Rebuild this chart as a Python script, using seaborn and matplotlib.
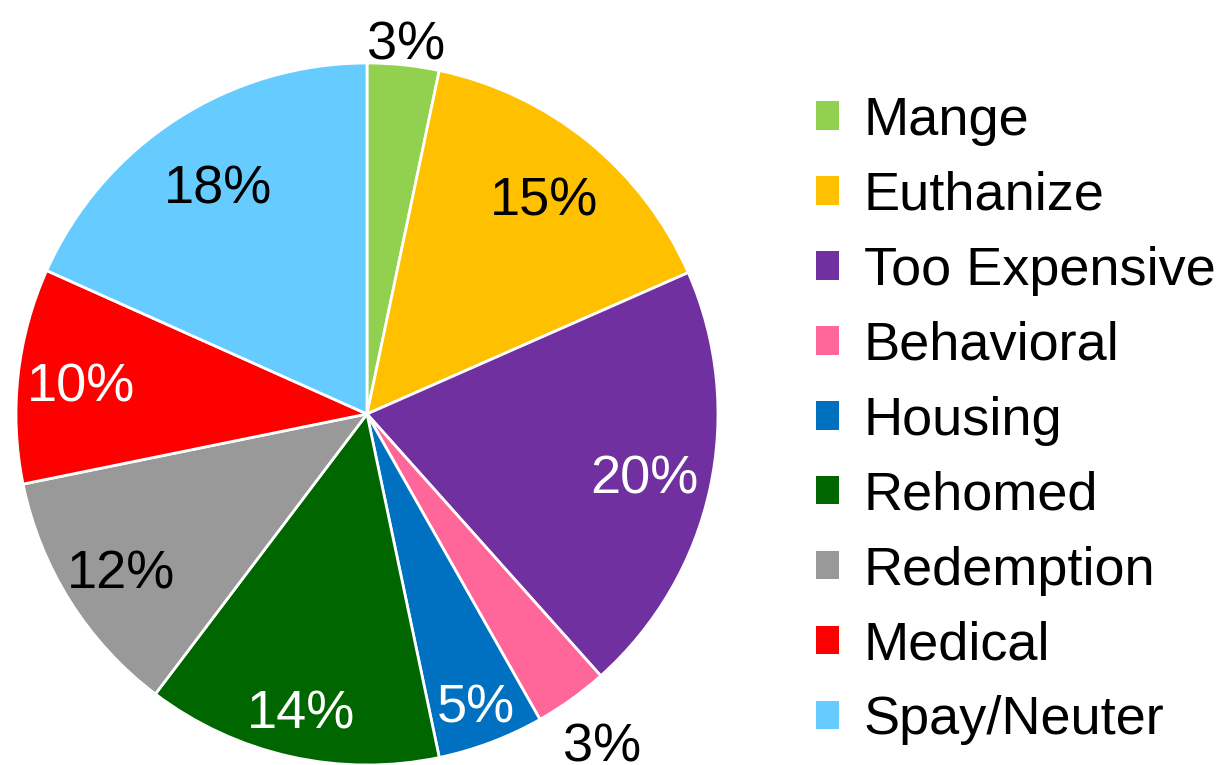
import numpy as np
import matplotlib
matplotlib.use("Agg")
import matplotlib.pyplot as plt
import seaborn as sns
from matplotlib.patches import Patch

categories = ["Mange", "Euthanize", "Too Expensive", "Behavioral", "Housing",
              "Rehomed", "Redemption", "Medical", "Spay/Neuter"]
values = [3.3, 15.1, 20.0, 3.4, 4.9, 13.6, 11.5, 9.9, 18.3]
colors = ["#92D050", "#FFC000", "#7030A0", "#FF6699", "#0070C0",
          "#006600", "#999999", "#FF0000", "#66CCFF"]
label_colors = ["black", "black", "white", "black", "white",
                "white", "black", "white", "black"]
label_radius = [1.07, 0.80, 0.81, 1.15, 0.88, 0.86, 0.83, 0.82, 0.78]

sns.set_theme(style="white")
plt.rcParams["font.family"] = ["Liberation Sans", "DejaVu Sans"]
plt.rcParams["text.color"] = "black"

W, H = 1224, 765
fig = plt.figure(figsize=(W / 100, H / 100), dpi=100)
cx, cy, R = 367, 414, 351
ax = fig.add_axes([(cx - R) / W, (H - cy - R) / H, 2 * R / W, 2 * R / H])

wedges, _ = ax.pie(values, colors=colors, startangle=90, counterclock=False,
                   wedgeprops=dict(edgecolor="white", linewidth=2))
ax.set_xlim(-1, 1)
ax.set_ylim(-1, 1)
ax.set_aspect("equal")

total = sum(values)
for w, v, lc, lr in zip(wedges, values, label_colors, label_radius):
    ang = np.deg2rad((w.theta1 + w.theta2) / 2)
    ax.text(lr * np.cos(ang), lr * np.sin(ang), f"{v / total * 100:.0f}%",
            ha="center", va="center_baseline", fontsize=39, color=lc,
            clip_on=False)

handles = [Patch(facecolor=c, edgecolor="none") for c in colors]
leg = fig.legend(handles, categories, loc="upper left",
                 bbox_to_anchor=(816 / W, 1 - 96 / H), frameon=False,
                 fontsize=39, handlelength=0.43, handleheight=0.43,
                 handletextpad=0.45, labelspacing=0.46, borderpad=0,
                 borderaxespad=0)
for t in leg.get_texts():
    t.set_color("black")

fig.savefig("out.png", dpi=100)
